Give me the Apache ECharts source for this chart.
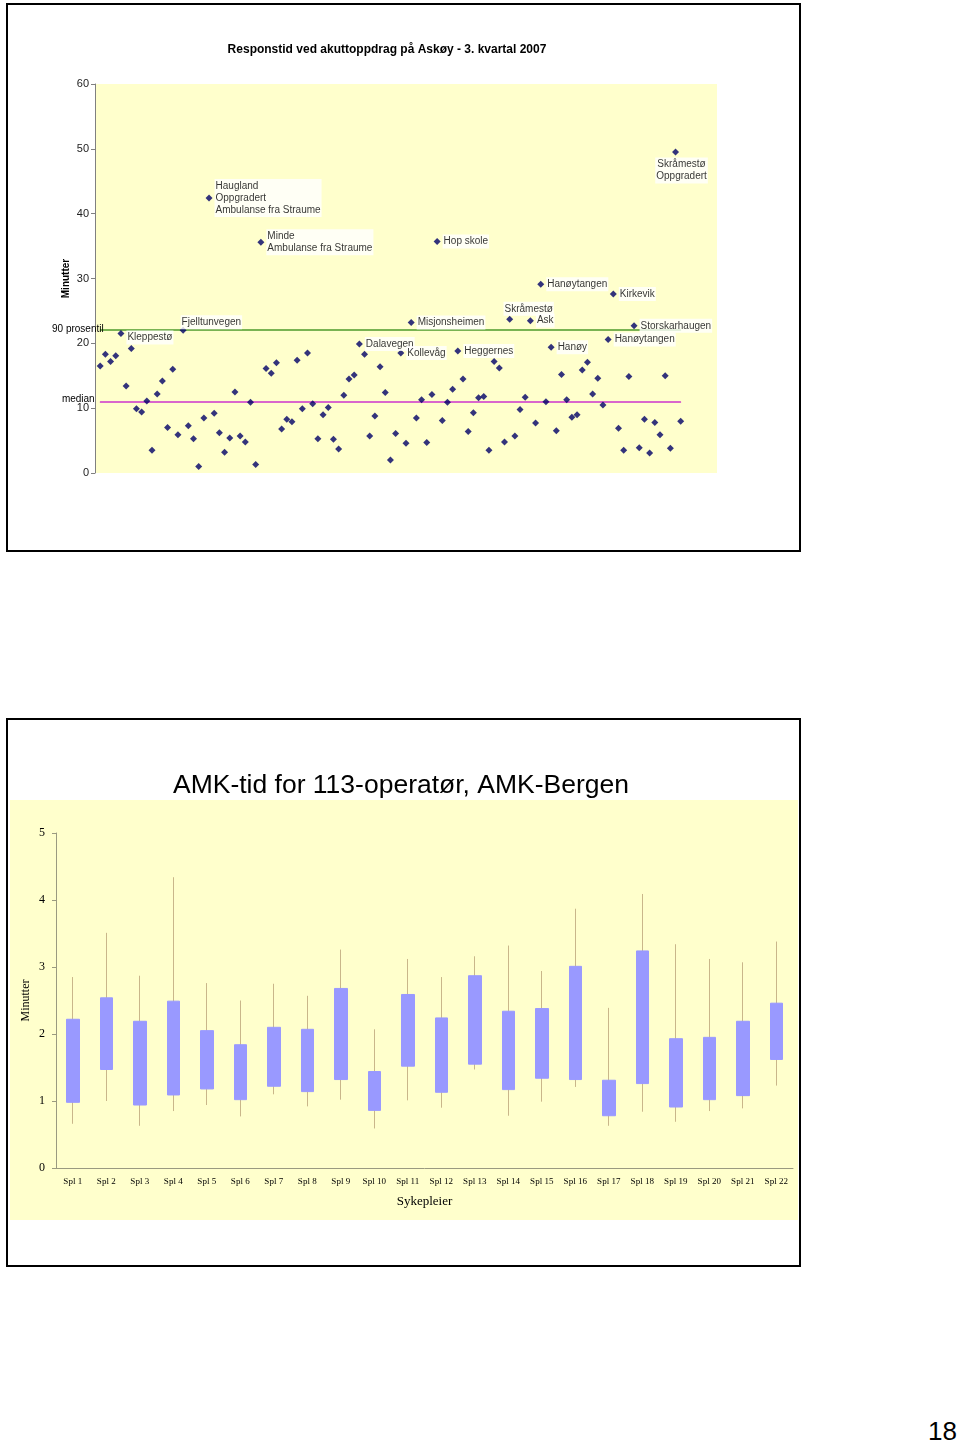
<!DOCTYPE html>
<html>
<head>
<meta charset="utf-8">
<script src="https://cdn.jsdelivr.net/npm/echarts@6/dist/echarts.min.js"></script>
<style>
  html, body { margin:0; padding:0; background:#fff; }
  .side   { position:relative; width:960px; height:1445px; overflow:hidden; }
  .ramme  { position:absolute; left:6px; width:795px; height:549px; box-sizing:border-box; border:2px solid #000; }
  .ramme > div { width:100%; height:100%; }
  #r1 { top:3px; }
  #r2 { top:718px; }
  .sidetall { position:absolute; left:928px; top:1418px; font:26px "Liberation Sans", Arial, sans-serif; line-height:1; }
</style>
</head>
<body>
<div class="side">
  <div class="ramme" id="r1"><div id="respons"></div></div>
  <div class="ramme" id="r2"><div id="amk"></div></div>
  <div class="sidetall">18</div>
</div>
<script>
const SANS  = '"Liberation Sans", Arial, sans-serif'
const SERIF = '"Liberation Serif", "Times New Roman", serif'

/* ---- Responstid, Askøy 3. kvartal 2007 (minutter, i rekkefølge) ---- */
const responsTid = [
  16.5, 18.3, 17.2, 18.1, 21.5, 13.4, 19.2,  9.9,  9.4, 11.1,
   3.5, 12.2, 14.2,  7.0, 16.0,  5.9, 22.0,  7.3,  5.3,  1.0,
   8.5, 42.4,  9.2,  6.2,  3.2,  5.4, 12.5,  5.7,  4.8, 10.9,
   1.3, 35.6, 16.1, 15.4, 17.0,  6.8,  8.3,  7.9, 17.4,  9.9,
  18.5, 10.7,  5.3,  9.0, 10.1,  5.2,  3.7, 12.0, 14.5, 15.1,
  19.9, 18.3,  5.7,  8.8, 16.4, 12.4,  2.0,  6.1, 18.5,  4.6,
  23.2,  8.5, 11.3,  4.7, 12.1, 35.7,  8.1, 10.9, 12.9, 18.8,
  14.5,  6.4,  9.3, 11.6, 11.8,  3.5, 17.2, 16.2,  4.8, 23.7,
   5.7,  9.8, 11.7, 23.5,  7.7, 29.1, 11.0, 19.4,  6.5, 15.2,
  11.3,  8.6,  9.0, 15.9, 17.1, 12.2, 14.6, 10.5, 20.6, 27.6,
   6.9,  3.5, 14.9, 22.7,  3.9,  8.3,  3.1,  7.8,  5.9, 15.0,
   3.8, 49.5,  8.0
]
/* oppdrag som har navn i figuren */
const navnIndeks = [5, 17, 22, 32, 51, 59, 61, 66, 70, 80, 84, 86, 88, 99, 100, 104, 112]
const navnTekst  = [
  'Kleppestø', 'Fjelltunvegen', 'Haugland\nOppgradert\nAmbulanse fra Straume',
  'Minde\nAmbulanse fra Straume', 'Dalavegen', 'Kollevåg', 'Misjonsheimen',
  'Hop skole', 'Heggernes', 'Skråmestø', 'Ask', 'Hanøytangen', 'Hanøy',
  'Hanøytangen', 'Kirkevik', 'Storskarhaugen', 'Skråmestø\nOppgradert'
]
const prosentil90 = 22.05
const median      = 10.97

/* ---- AMK-tid for 113-operatør ---- */
const spl = ['Spl 1','Spl 2','Spl 3','Spl 4','Spl 5','Spl 6','Spl 7','Spl 8','Spl 9','Spl 10','Spl 11',
             'Spl 12','Spl 13','Spl 14','Spl 15','Spl 16','Spl 17','Spl 18','Spl 19','Spl 20','Spl 21','Spl 22']
const boksBunn = [0.98, 1.47, 0.94, 1.09, 1.18, 1.02, 1.22, 1.14, 1.32, 0.86, 1.52, 1.13, 1.55, 1.17, 1.34, 1.32, 0.78, 1.26, 0.91, 1.02, 1.08, 1.62]
const boksTopp = [2.22, 2.54, 2.19, 2.49, 2.05, 1.84, 2.10, 2.07, 2.68, 1.44, 2.59, 2.24, 2.87, 2.34, 2.38, 3.01, 1.31, 3.24, 1.93, 1.95, 2.19, 2.46]
const laveste  = [0.66, 1.00, 0.63, 0.85, 0.94, 0.77, 1.10, 0.92, 1.02, 0.59, 1.01, 0.90, 1.47, 0.78, 0.99, 1.21, 0.63, 0.84, 0.69, 0.85, 0.89, 1.23]
const hoyeste  = [2.85, 3.51, 2.87, 4.34, 2.76, 2.50, 2.75, 2.57, 3.26, 2.07, 3.12, 2.85, 3.16, 3.32, 2.94, 3.87, 2.39, 4.09, 3.34, 3.12, 3.07, 3.38]

/* plassering av enkelte navnelapper */
const lappPlass = {
  5:   { offset:[0, 4] },
  17:  { offset:[-8, -8] },
  80:  { position:'top', offset:[19, 2] },
  112: { position:'bottom', offset:[6, 0] }
}

const punkter = responsTid.map((v, i) => {
  const n = i + 1
  const k = navnIndeks.indexOf(n)
  const p = { value:[n, v] }
  if (k >= 0) p.label = Object.assign({ show:true, formatter:navnTekst[k] }, lappPlass[n] || {})
  return p
})

function grenseLinje(verdi, tekst, farge, off) {
  return {
    type:'line',
    data:[
      { value:[1, verdi], label:{ show:true, formatter:tekst, position:'left', offset:off,
          fontFamily:SANS, fontSize:10, color:'#000' } },
      [113, verdi]
    ],
    symbol:'circle', symbolSize:1,
    itemStyle:{ color:farge },
    lineStyle:{ color:farge, width:1.5 },
    z:2, silent:true
  }
}

const c1 = echarts.init(document.getElementById('respons'))
c1.setOption({
  animation:false,
  title:{
    text:'Responstid ved akuttoppdrag på Askøy - 3. kvartal 2007',
    left:374, top:34, textAlign:'center',
    textStyle:{ fontFamily:SANS, fontSize:12, fontWeight:'bold', color:'#000' }
  },
  grid:{ left:87, top:79, width:622, height:389, show:true, backgroundColor:'#FFFFCC', borderWidth:0 },
  xAxis:{ type:'value', min:0, max:120, show:false },
  yAxis:{
    type:'value', min:0, max:60, interval:10,
    name:'Minutter', nameLocation:'middle', nameGap:24, nameMoveOverlap:false,
    nameTextStyle:{ fontFamily:SANS, fontSize:10, fontWeight:'bold', color:'#000' },
    axisLine:{ show:true, lineStyle:{ color:'#808080' } },
    axisTick:{ show:true, length:4, lineStyle:{ color:'#808080' } },
    axisLabel:{ fontFamily:SANS, fontSize:11, color:'#222', margin:6 },
    splitLine:{ show:false }
  },
  series:[
    grenseLinje(prosentil90, '90 prosentil', '#4C9A2A', [9, -1]),
    grenseLinje(median, 'median', '#CC33CC', [0, -3]),
    {
      type:'scatter',
      data:punkter,
      symbol:'diamond', symbolSize:7,
      itemStyle:{ color:'#000066' },
      label:{ show:false, position:'right', distance:2, fontFamily:SANS, fontSize:10, color:'#000',
              lineHeight:12, backgroundColor:'#fff', padding:[1, 1] },
      z:3
    }
  ]
})

const c2 = echarts.init(document.getElementById('amk'))
c2.setOption({
  animation:false,
  graphic:[{ type:'rect', left:2, top:80, shape:{ width:788, height:420 }, style:{ fill:'#FFFFCC' }, z:-10, silent:true }],
  title:{
    text:'AMK-tid for 113-operatør, AMK-Bergen',
    left:388, top:47, textAlign:'center',
    textStyle:{ fontFamily:SANS, fontSize:26.5, fontWeight:'normal', color:'#000' }
  },
  grid:{ left:48, top:113, width:737, height:335 },
  xAxis:{
    type:'category', data:spl,
    name:'Sykepleier', nameLocation:'middle', nameGap:27,
    nameTextStyle:{ fontFamily:SERIF, fontSize:13, color:'#000' },
    axisLine:{ lineStyle:{ color:'#9a9a80' } },
    axisTick:{ length:5, lineStyle:{ color:'#9a9a80' } },
    axisLabel:{ fontFamily:SERIF, fontSize:9, color:'#000', interval:0, margin:9 }
  },
  yAxis:{
    type:'value', min:0, max:5, interval:1,
    name:'Minutter', nameLocation:'middle', nameGap:24, nameMoveOverlap:false,
    nameTextStyle:{ fontFamily:SERIF, fontSize:12, color:'#000' },
    axisLine:{ show:true, lineStyle:{ color:'#9a9a80' } },
    axisTick:{ show:true, length:4, lineStyle:{ color:'#9a9a80' } },
    axisLabel:{ fontFamily:SERIF, fontSize:12, color:'#000', margin:11 },
    splitLine:{ show:false }
  },
  series:[
    {   // spredning (min - maks)
      type:'candlestick',
      data:spl.map((s, i) => [boksBunn[i], boksTopp[i], laveste[i], hoyeste[i]]),
      barWidth:1,
      itemStyle:{ color:'#C9B68A', color0:'#C9B68A', borderColor:'#C9B68A', borderColor0:'#C9B68A', borderWidth:1 },
      z:2, silent:true
    },
    {   // boks
      type:'candlestick',
      data:spl.map((s, i) => [boksBunn[i], boksTopp[i], boksBunn[i], boksTopp[i]]),
      barWidth:13,
      itemStyle:{ color:'#9999FF', color0:'#9999FF', borderColor:'#9999FF', borderColor0:'#9999FF', borderWidth:1 },
      z:3, silent:true
    }
  ]
})
</script>
</body>
</html>
